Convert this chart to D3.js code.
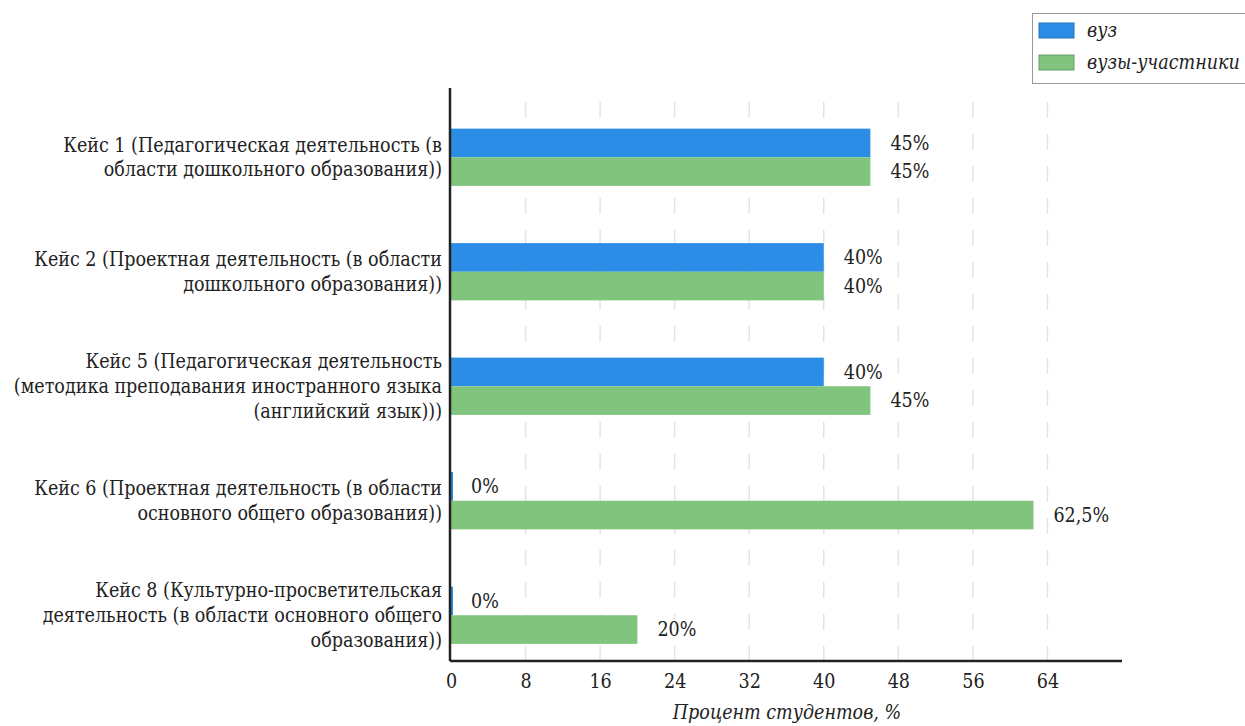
<!DOCTYPE html>
<html>
<head>
<meta charset="utf-8">
<script src="https://cdn.jsdelivr.net/npm/d3@7"></script>
<style>
  body { margin: 0; background: #fff; }
  svg text { font-family: "DejaVu Serif", serif; font-stretch: condensed; fill: #222; }
</style>
</head>
<body>
<div id="chart"></div>
<script>
// categories (each label split in lines as shown)
var categories = [
  ["Кейс 1 (Педагогическая деятельность (в", "области дошкольного образования))"],
  ["Кейс 2 (Проектная деятельность (в области", "дошкольного образования))"],
  ["Кейс 5 (Педагогическая деятельность", "(методика преподавания иностранного языка", "(английский язык)))"],
  ["Кейс 6 (Проектная деятельность (в области", "основного общего образования))"],
  ["Кейс 8 (Культурно-просветительская", "деятельность (в области основного общего", "образования))"]
];
var seriesNames = ["вуз", "вузы-участники"];
var vuzValues = [45, 40, 40, 0, 0];
var partnerValues = [45, 40, 45, 62.5, 20];
var xTicks = [0, 8, 16, 24, 32, 40, 48, 56, 64];
var colors = ["#2b8de6", "#80c47e"];

var fontSize = 19.5;
var width = 1245, height = 726;
var svg = d3.select("#chart").append("svg").attr("width", width).attr("height", height);

var x = d3.scaleLinear().domain([0, 72]).range([451, 1122]);
var y = d3.scaleBand().domain(d3.range(categories.length)).range([100, 672.5])
  .paddingInner(0.5).paddingOuter(0.25);
var ySub = d3.scaleBand().domain([0, 1]).range([0, y.bandwidth()]);

var axisY = 661, axisTop = 88;

// grid lines
svg.append("g").selectAll("line").data(xTicks.slice(1)).enter().append("line")
  .attr("x1", function (d) { return x(d); }).attr("x2", function (d) { return x(d); })
  .attr("y1", 102).attr("y2", axisY)
  .attr("stroke", "#e4e4e4").attr("stroke-width", 1.5).attr("stroke-dasharray", "16,16");

// bars
var rows = categories.map(function (c, i) {
  return [vuzValues[i], partnerValues[i]];
});
var groups = svg.append("g").selectAll("g").data(rows).enter().append("g")
  .attr("transform", function (d, i) { return "translate(0," + y(i) + ")"; });

groups.selectAll("rect").data(function (d) { return d; }).enter().append("rect")
  .attr("x", x(0))
  .attr("y", function (d, j) { return ySub(j); })
  .attr("width", function (d) { return Math.max(x(d) - x(0), 2); })
  .attr("height", ySub.bandwidth())
  .attr("fill", function (d, j) { return colors[j]; });

groups.selectAll("text").data(function (d) { return d; }).enter().append("text")
  .attr("x", function (d) { return x(d) + 20; })
  .attr("y", function (d, j) { return ySub(j) + ySub.bandwidth() / 2; })
  .attr("dy", "0.35em")
  .attr("font-size", fontSize)
  .text(function (d) { return String(d).replace(".", ",") + "%"; });

// category labels
var lh = 1.27;
var labels = svg.append("g").selectAll("text").data(categories).enter().append("text")
  .attr("text-anchor", "end")
  .attr("font-size", fontSize)
  .attr("y", function (d, i) { return y(i) + y.bandwidth() / 2; });
labels.selectAll("tspan").data(function (d) {
  return d.map(function (t, k) { return { t: t, k: k, n: d.length }; });
}).enter().append("tspan")
  .attr("x", 442)
  .attr("dy", function (o) { return o.k === 0 ? (0.35 - (o.n - 1) * lh / 2) + "em" : lh + "em"; })
  .text(function (o) { return o.t; });

// axes
var xAxis = svg.append("g").attr("transform", "translate(0," + axisY + ")")
  .call(d3.axisBottom(x).tickValues(xTicks).tickSize(0).tickPadding(13));
xAxis.select(".domain").remove();
xAxis.selectAll("text").attr("font-size", fontSize)
  .style("font-family", "\"DejaVu Serif\", serif").style("font-stretch", "condensed").attr("fill", "#222");

svg.append("line").attr("x1", x(0) - 1).attr("x2", x(72)).attr("y1", axisY).attr("y2", axisY)
  .attr("stroke", "#222").attr("stroke-width", 2.5);
svg.append("line").attr("x1", x(0) - 1).attr("x2", x(0) - 1).attr("y1", axisTop).attr("y2", axisY)
  .attr("stroke", "#222").attr("stroke-width", 2.5);

svg.append("text").attr("x", 787).attr("y", 719).attr("text-anchor", "middle")
  .attr("font-size", fontSize).attr("font-style", "italic").text("Процент студентов, %");

// legend
var legend = svg.append("g");
legend.append("rect").attr("x", 1032.5).attr("y", 13.5).attr("width", 220).attr("height", 70)
  .attr("fill", "#fff").attr("stroke", "#999");
seriesNames.forEach(function (name, i) {
  legend.append("rect").attr("x", 1039).attr("y", 23 + i * 32).attr("width", 35).attr("height", 15)
    .attr("fill", colors[i]).attr("stroke", d3.color(colors[i]).darker(0.6)).attr("stroke-width", 1);
  legend.append("text").attr("x", 1087).attr("y", 30.5 + i * 32).attr("dy", "0.35em")
    .attr("font-size", fontSize).attr("font-style", "italic").text(name);
});
</script>
</body>
</html>
